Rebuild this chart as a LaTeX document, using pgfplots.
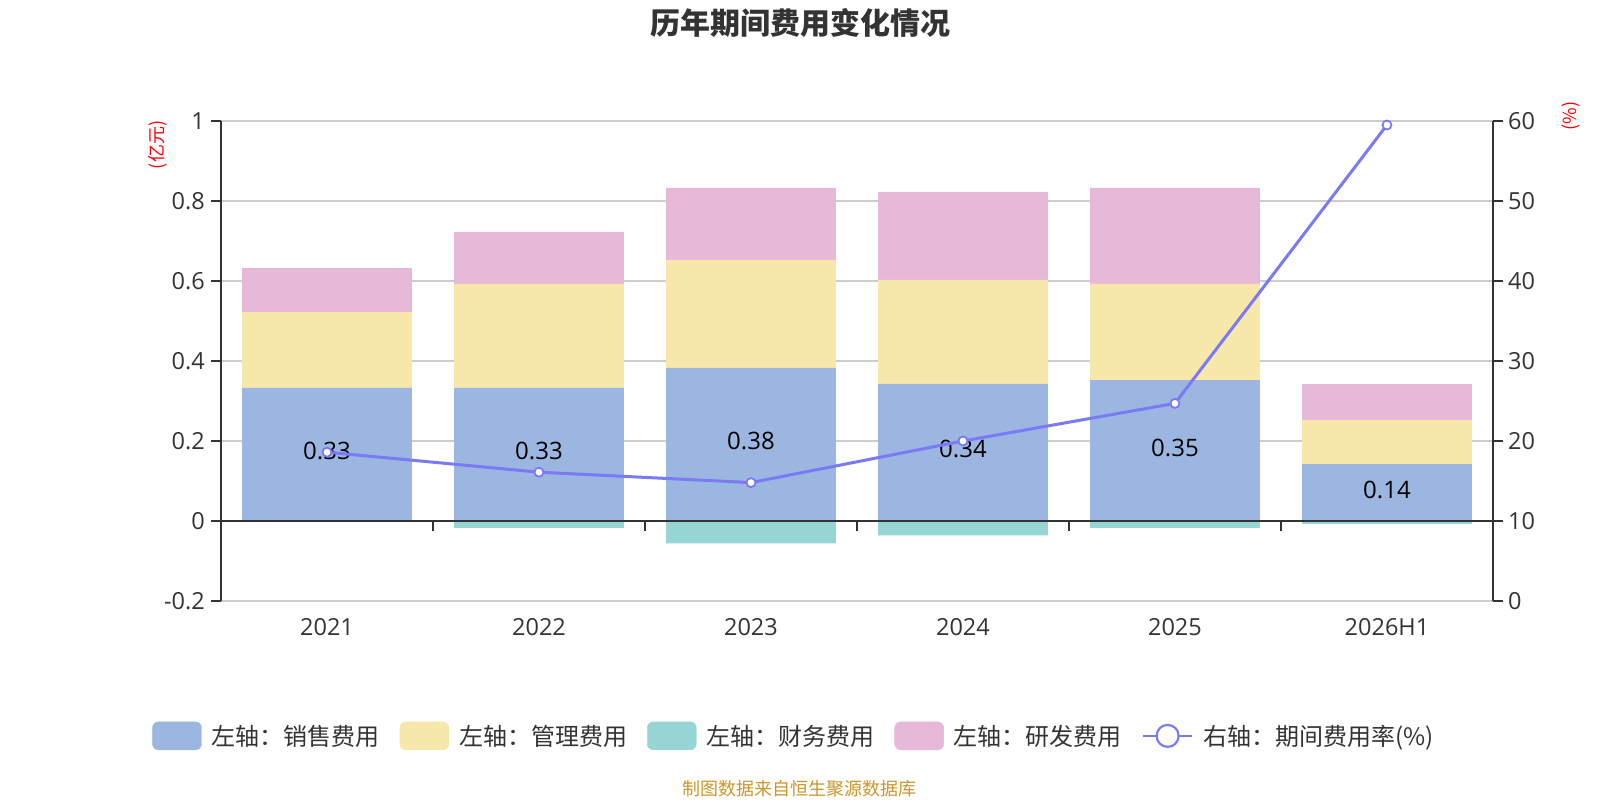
\documentclass[border=0pt]{standalone}
\usepackage{pgfplots}
\pgfplotsset{compat=1.18}
\usepackage{fontspec}
\setmainfont{Open Sans}
\newfontfamily\cjk{Noto Sans CJK SC}
\definecolor{sales}{RGB}{155,183,225}
\definecolor{admin}{RGB}{248,231,170}
\definecolor{fin}{RGB}{151,212,212}
\definecolor{rd}{RGB}{231,185,216}
\definecolor{linec}{RGB}{122,122,245}
\definecolor{textgray}{RGB}{51,51,51}
\definecolor{axisc}{RGB}{51,51,51}
\definecolor{gridc}{RGB}{204,204,204}
\definecolor{footc}{RGB}{204,150,40}
\pgfplotsset{
  common/.style={
    at={(221pt,199pt)}, anchor=south west, scale only axis,
    width=1272pt, height=480pt,
    xmin=-0.5, xmax=5.5,
  }
}
\begin{document}
\begin{tikzpicture}
\path[use as bounding box] (0pt,0pt) rectangle (1600pt,800pt);
% axis 1: stacked positive bars, left axis, grid
\begin{axis}[common,
  ymin=-0.2, ymax=1,
  ybar stacked, bar width=0.8,
  axis x line*=bottom, axis y line*=left,
  x axis line style={draw=none},
  y axis line style={axisc, line width=2pt},
  xtick={0,1,2,3,4,5}, xticklabels={2021,2022,2023,2024,2025,2026H1},
  xtick style={draw=none},
  ytick={-0.2,0,0.2,0.4,0.6,0.8,1},
  yticklabels={-0.2,0,0.2,0.4,0.6,0.8,1},
  ytick style={axisc, line width=2pt},
  tick align=outside, major tick length=10pt,
  ymajorgrids, grid style={gridc, line width=1.3pt},
  tick label style={font=\fontsize{23.5}{28}\selectfont, text=textgray},
  xticklabel style={inner sep=0pt, yshift=-7pt},
  yticklabel style={inner sep=0pt, xshift=-6pt},
]
\addplot[fill=sales, draw=none] coordinates {(0,0.333)(1,0.333)(2,0.383)(3,0.343)(4,0.352)(5,0.142)};
\addplot[fill=admin, draw=none] coordinates {(0,0.189)(1,0.260)(2,0.269)(3,0.260)(4,0.241)(5,0.110)};
\addplot[fill=rd, draw=none] coordinates {(0,0.110)(1,0.130)(2,0.181)(3,0.220)(4,0.240)(5,0.090)};
\end{axis}
% axis 2: finance bars, zero line, value labels
\begin{axis}[common,
  ymin=-0.2, ymax=1,
  axis x line*=middle, axis y line=none,
  x axis line style={axisc, line width=2pt},
  xtick={0.5,1.5,2.5,3.5,4.5}, xticklabels={},
  xtick style={axisc, line width=2pt},
  tick align=outside, major tick length=10pt,
  axis on top,
]
\addplot[ybar, bar width=0.8, bar shift=0pt, fill=fin, draw=none] coordinates {(0,0)(1,-0.017)(2,-0.056)(3,-0.036)(4,-0.017)(5,-0.007)};
\addplot[only marks, mark=none, point meta=explicit symbolic,
  nodes near coords, nodes near coords align=center,
  every node near coord/.append style={font=\fontsize{24}{28}\selectfont, text=black, anchor=center, yshift=3pt}]
  coordinates {(0,0.1665)[0.33] (1,0.1665)[0.33] (2,0.1915)[0.38] (3,0.1715)[0.34] (4,0.176)[0.35] (5,0.071)[0.14]};
\end{axis}
% axis 3: right axis, line, legend
\begin{axis}[common,
  ymin=0, ymax=60,
  axis x line=none, axis y line*=right,
  y axis line style={axisc, line width=2pt},
  ytick={0,10,20,30,40,50,60},
  yticklabels={0,10,20,30,40,50,60},
  ytick style={axisc, line width=2pt},
  tick align=outside, major tick length=10pt,
  tick label style={font=\fontsize{23.5}{28}\selectfont, text=textgray},
  yticklabel style={inner sep=0pt, xshift=5pt},
  legend columns=5,
  legend style={at={(0.4497,-0.281)}, anchor=center, draw=none, fill=none,
    font=\cjk\fontsize{24}{28}\selectfont, text=textgray,
    nodes={inner xsep=0pt},
    /tikz/every odd column/.append style={column sep=10pt},
    /tikz/every even column/.append style={column sep=20pt}},
]
\addlegendimage{legend image code/.code={\fill[sales, rounded corners=6pt] (0pt,-14pt) rectangle (49pt,14pt);}}
\addlegendentry{左轴：销售费用}
\addlegendimage{legend image code/.code={\fill[admin, rounded corners=6pt] (0pt,-14pt) rectangle (49pt,14pt);}}
\addlegendentry{左轴：管理费用}
\addlegendimage{legend image code/.code={\fill[fin, rounded corners=6pt] (0pt,-14pt) rectangle (49pt,14pt);}}
\addlegendentry{左轴：财务费用}
\addlegendimage{legend image code/.code={\fill[rd, rounded corners=6pt] (0pt,-14pt) rectangle (49pt,14pt);}}
\addlegendentry{左轴：研发费用}
\addplot[linec, line width=3pt, mark=*, mark size=4.5pt,
  mark options={fill=white, draw=linec, line width=1.8pt},
  legend image code/.code={\draw[linec, line width=2.5pt] (0pt,0pt) -- (49pt,0pt);
    \draw[linec, line width=2.2pt, fill=white] (24.5pt,0pt) circle (11pt);}]
  coordinates {(0,18.6)(1,16.1)(2,14.8)(3,20.0)(4,24.7)(5,59.5)};
\addlegendentry{右轴：期间费用率(\%)}
\end{axis}
% titles and notes
\node[font=\cjk\bfseries\fontsize{30}{35}\selectfont, text=textgray] at (800pt,777pt) {历年期间费用变化情况};
\node[font=\cjk\fontsize{18}{22}\selectfont, text=red, rotate=90] at (158pt,655pt) {(亿元)};
\node[font=\cjk\fontsize{18}{22}\selectfont, text=red, rotate=90] at (1571pt,684pt) {(\%)};
\node[font=\cjk\fontsize{18}{22}\selectfont, text=footc] at (799pt,11pt) {制图数据来自恒生聚源数据库};
\end{tikzpicture}
\end{document}
